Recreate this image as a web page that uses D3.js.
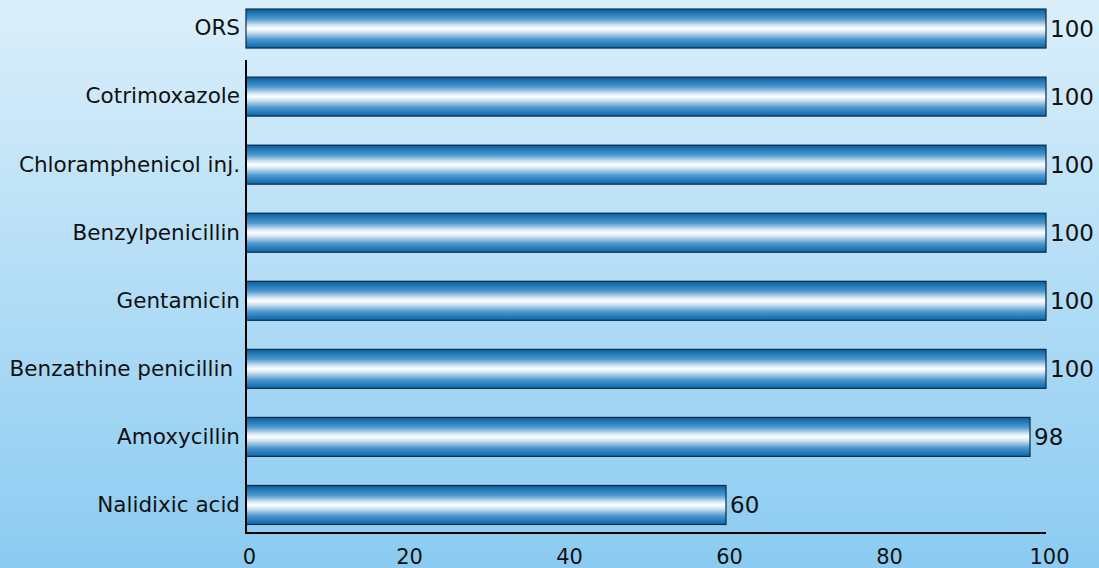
<!DOCTYPE html>
<html><head><meta charset="utf-8">
<script src="https://cdn.jsdelivr.net/npm/d3@7"></script>
<style>html,body{margin:0;padding:0;overflow:hidden;}svg{display:block;}</style>
</head><body>
<script>
const categories = ["ORS","Cotrimoxazole","Chloramphenicol inj.","Benzylpenicillin","Gentamicin","Benzathine penicillin ","Amoxycillin","Nalidixic acid"];
const values = [100,100,100,100,100,100,98,60];
const xTicks = [0,20,40,60,80,100];

const W=1099,H=568;
const svg=d3.select("body").append("svg").attr("width",W).attr("height",H);
const defs=svg.append("defs");
const bg=defs.append("linearGradient").attr("id","bg").attr("x1",0).attr("y1",0).attr("x2",0).attr("y2",1);
bg.append("stop").attr("offset","0%").attr("stop-color","#dbeffb");
bg.append("stop").attr("offset","100%").attr("stop-color","#8bcbf1");
const bar=defs.append("linearGradient").attr("id","bar").attr("x1",0).attr("y1",0).attr("x2",0).attr("y2",1);
[[0,"#0d5a94"],[0.08,"#1b72b2"],[0.25,"#4f97cb"],[0.42,"#d3e7f5"],[0.5,"#ffffff"],[0.6,"#cce2f2"],[0.78,"#4d97cc"],[0.93,"#1c76b7"],[1,"#15669f"]]
 .forEach(([o,c])=>bar.append("stop").attr("offset",o).attr("stop-color",c));

svg.append("rect").attr("width",W).attr("height",H).attr("fill","url(#bg)");

const x=d3.scaleLinear().domain([0,100]).range([246,1046]);
const y=d3.scaleBand().domain(categories).range([-5.5,539]).paddingInner(0.427).paddingOuter(0.2135);

svg.selectAll("rect.bar").data(categories).join("rect").attr("class","bar")
 .attr("x",x(0)).attr("y",d=>y(d)).attr("width",(d,i)=>x(values[i])-x(0)).attr("height",y.bandwidth())
 .attr("fill","url(#bar)").attr("stroke","#0a2b47").attr("stroke-width",1.2);

// axes lines
svg.append("line").attr("x1",x(0)).attr("x2",x(0)).attr("y1",60).attr("y2",534).attr("stroke","#000").attr("stroke-width",2);
svg.append("line").attr("x1",x(0)-1).attr("x2",x(100)).attr("y1",533).attr("y2",533).attr("stroke","#000").attr("stroke-width",2);

const font="'DejaVu Sans', sans-serif";
// x axis via d3.axisBottom
const xa=svg.append("g").attr("transform","translate(3,533)")
 .call(d3.axisBottom(x).tickValues(xTicks).tickSize(0).tickPadding(16).tickFormat(d3.format("d")));
xa.select(".domain").remove();
xa.selectAll("text").attr("font-family",font).attr("font-size",21).attr("fill","#111");

// y labels
const ya=svg.append("g").attr("transform","translate(240,0)")
 .call(d3.axisLeft(y).tickSize(0).tickPadding(0));
ya.select(".domain").remove();
ya.selectAll("text").attr("font-family",font).attr("font-size",21.5).attr("fill","#111").style("white-space","pre");

// value labels
svg.selectAll("text.val").data(categories).join("text").attr("class","val")
 .attr("x",(d,i)=>x(values[i])+4).attr("y",d=>y(d)+y.bandwidth()/2).attr("dy","0.36em")
 .attr("font-family",font).attr("font-size",23).attr("fill","#111")
 .text((d,i)=>values[i]);
</script>
</body></html>
